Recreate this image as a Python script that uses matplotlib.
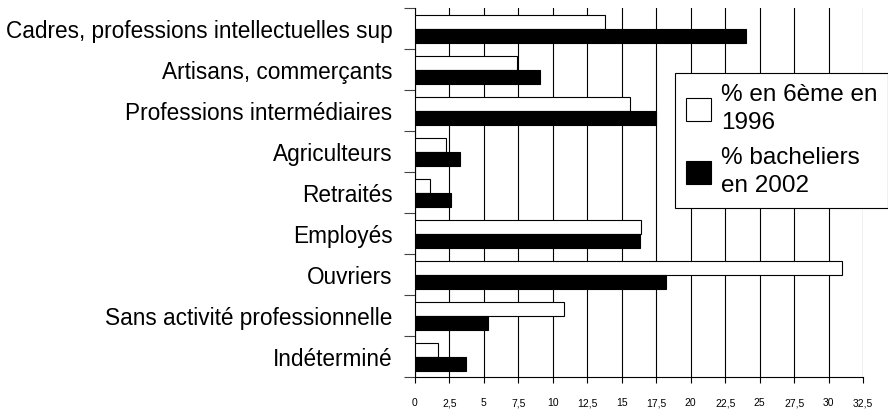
import numpy as np
import matplotlib.pyplot as plt

plt.rcParams['font.family'] = ['Liberation Sans', 'DejaVu Sans']

categories = ["Cadres, professions intellectuelles sup", "Artisans, commerçants",
              "Professions intermédiaires", "Agriculteurs", "Retraités", "Employés",
              "Ouvriers", "Sans activité professionnelle", "Indéterminé"]
sixieme_1996 = [13.8, 7.4, 15.6, 2.3, 1.1, 16.4, 31.0, 10.8, 1.7]
bacheliers_2002 = [24.0, 9.1, 17.5, 3.3, 2.6, 16.3, 18.2, 5.3, 3.7]
xticks = np.arange(0, 33, 2.5)
xtick_labels = ["0", "2,5", "5", "7,5", "10", "12,5", "15", "17,5", "20",
                "22,5", "25", "27,5", "30", "32,5"]

fig = plt.figure(figsize=(8.88, 4.11), dpi=100)
ax = fig.add_axes([0.467, 0.082, 0.505, 0.898])

n = len(categories)
y = np.arange(n)
h = 0.34
ax.barh(y - h / 2, sixieme_1996, height=h, color='white', edgecolor='black',
        linewidth=0.8, label="% en 6ème en\n1996", zorder=3)
ax.barh(y + h / 2, bacheliers_2002, height=h, color='black', edgecolor='black',
        linewidth=0.8, label="% bacheliers\nen 2002", zorder=3)

ax.set_ylim(n - 0.5, -0.5)
ax.set_xlim(0, 32.5)
# ticks between categories, labels centred on each category
ax.set_yticks(np.arange(-0.5, n, 1))
ax.set_yticklabels([])
ax.set_yticks(y, minor=True)
ax.set_yticklabels(categories, minor=True, fontsize=16.3)
ax.tick_params(axis='y', which='major', length=8, width=0.8, color='#444444')
ax.tick_params(axis='y', which='minor', length=0, pad=16)

ax.set_xticks(xticks)
ax.set_xticklabels(xtick_labels, fontsize=7.5)
ax.tick_params(axis='x', length=4, width=0.8, pad=11)
ax.xaxis.grid(True, color='black', linewidth=0.8, zorder=0)
ax.set_axisbelow(True)

for s in ['top', 'right']:
    ax.spines[s].set_visible(False)
for s in ['left', 'bottom']:
    ax.spines[s].set_linewidth(0.8)

leg = ax.legend(loc='upper left', bbox_to_anchor=(0.58, 0.824), fontsize=17.5,
                frameon=True, fancybox=False, edgecolor='black', framealpha=1,
                handlelength=1.05, handleheight=1.05, handletextpad=0.4,
                labelspacing=0.55, borderpad=0.45, borderaxespad=0)
leg.get_frame().set_linewidth(0.8)
for t in leg.get_texts():
    t.set_linespacing(1.35)

fig.savefig("out.png", dpi=100)
